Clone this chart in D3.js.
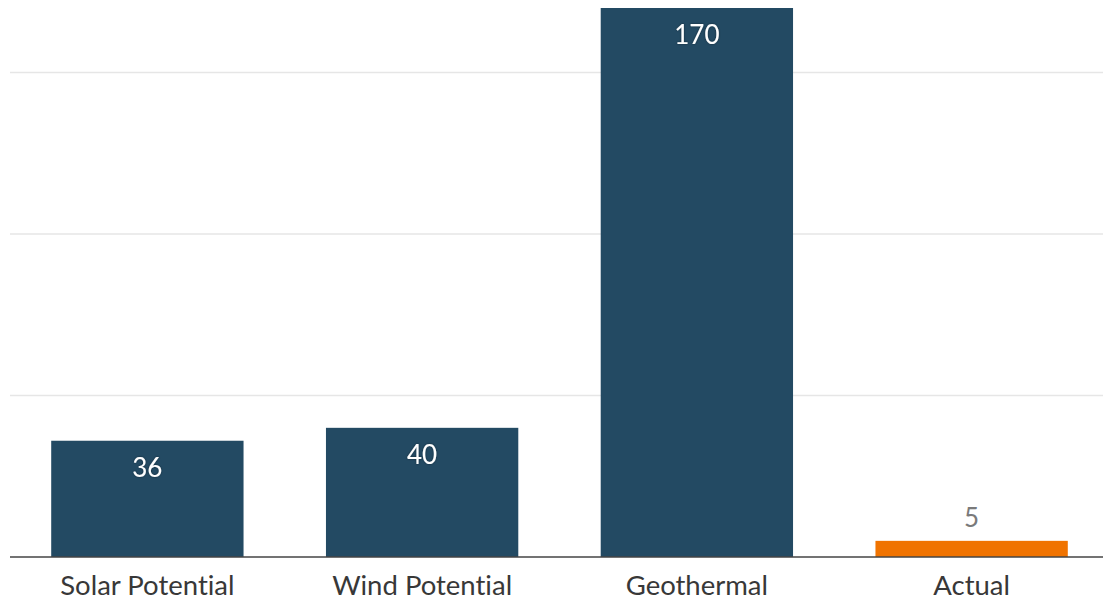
<!DOCTYPE html>
<html>
<head>
<meta charset="utf-8">
<script src="https://cdn.jsdelivr.net/npm/d3@7"></script>
<style>
  html, body { margin: 0; padding: 0; background: #fff; }
  svg { display: block; font-family: Lato, "Open Sans", sans-serif; }
  svg text { font-variant-ligatures: none; font-feature-settings: "liga" 0, "dlig" 0; }
</style>
</head>
<body>
<svg id="chart" width="1103" height="600"></svg>
<script>
// Energy sources and their values
const categories = ["Solar Potential", "Wind Potential", "Geothermal", "Actual"];
const values = [36, 40, 170, 5];
const gridTicks = [50, 100, 150];
const barColors = ["#234a63", "#234a63", "#234a63", "#f07300"];

const svg = d3.select("#chart");
const plotLeft = 10, plotRight = 1109, plotTop = 8, baseline = 557;

const x = d3.scaleBand()
  .domain(categories)
  .range([plotLeft, plotRight])
  .paddingInner(0.3)
  .paddingOuter(0.15);

const y = d3.scaleLinear()
  .domain([0, 170])
  .range([baseline, plotTop]);

// soft drop shadow for the in-bar labels
const defs = svg.append("defs");
const f = defs.append("filter").attr("id", "txtShadow")
  .attr("x", "-20%").attr("y", "-20%").attr("width", "140%").attr("height", "140%");
f.append("feDropShadow").attr("dx", 0).attr("dy", 0).attr("stdDeviation", 1.2)
  .attr("flood-color", "#000").attr("flood-opacity", 0.45);

// horizontal gridlines
svg.append("g")
  .selectAll("line")
  .data(gridTicks)
  .join("line")
  .attr("x1", plotLeft).attr("x2", 1103)
  .attr("y1", d => y(d)).attr("y2", d => y(d))
  .attr("stroke", "#e6e6e6").attr("stroke-width", 1.5);

// bars
svg.append("g")
  .selectAll("rect")
  .data(values)
  .join("rect")
  .attr("x", (d, i) => x(categories[i]))
  .attr("width", x.bandwidth())
  .attr("y", d => y(d))
  .attr("height", d => y(0) - y(d))
  .attr("fill", (d, i) => barColors[i]);

// value labels: inside tall bars, above short ones
const inside = d => (y(0) - y(d)) > 60;
svg.append("g")
  .selectAll("text")
  .data(values)
  .join("text")
  .attr("x", (d, i) => x(categories[i]) + x.bandwidth() / 2)
  .attr("y", d => inside(d) ? y(d) + 36 : y(d) - 14)
  .attr("text-anchor", "middle")
  .attr("font-size", 26)
  .attr("fill", d => inside(d) ? "#ffffff" : "#7a7a7a")
  .attr("filter", d => inside(d) ? "url(#txtShadow)" : null)
  .text(d => d);

// baseline axis
const xAxis = svg.append("g")
  .attr("transform", `translate(0,${baseline})`)
  .call(d3.axisBottom(x).tickSize(0).tickPadding(0));
xAxis.select(".domain").attr("d", `M${plotLeft},0H1103`).attr("stroke", "#444").attr("stroke-width", 1.6);
xAxis.selectAll(".tick text")
  .attr("font-family", "Lato, 'Open Sans', sans-serif")
  .attr("font-size", 27.5)
  .attr("fill", "#383838")
  .attr("dy", 0)
  .attr("y", 38);
</script>
</body>
</html>
